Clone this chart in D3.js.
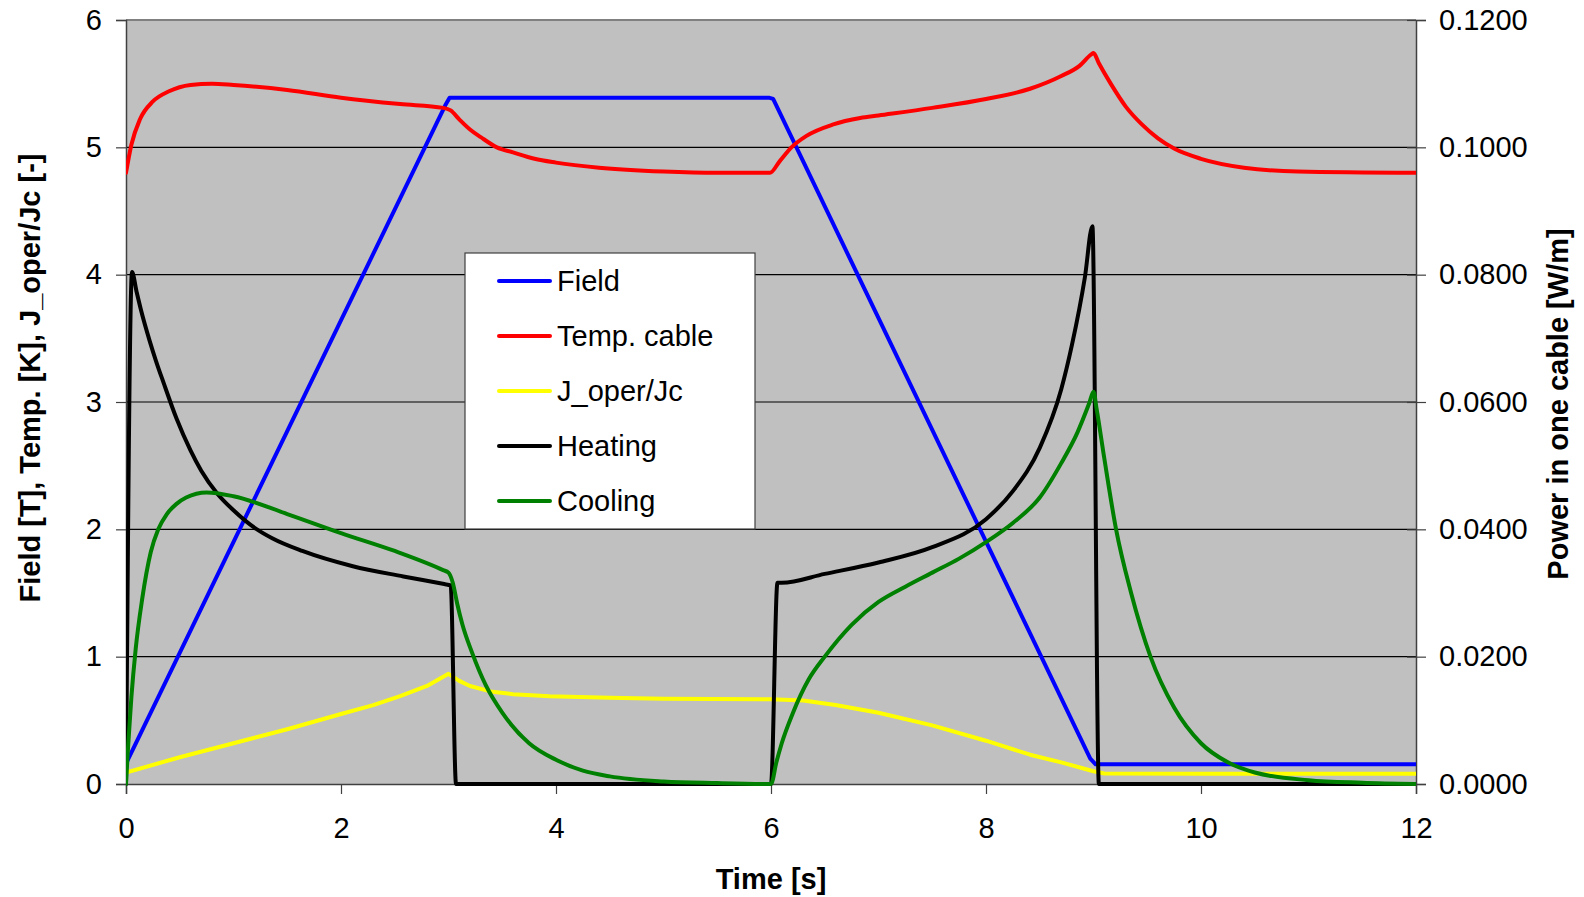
<!DOCTYPE html>
<html>
<head>
<meta charset="utf-8">
<script src="https://cdn.jsdelivr.net/npm/d3@7"></script>
<style>
  html, body { margin: 0; padding: 0; background: #ffffff; }
  svg { display: block; font-family: "Liberation Sans", Arial, sans-serif; }
</style>
</head>
<body>
<svg id="chart" width="1584" height="897"></svg>
<script>
// Time axis and tick values
const xTicks = [0, 2, 4, 6, 8, 10, 12];
const leftTicks = [0, 1, 2, 3, 4, 5, 6];
const rightTicks = [0, 0.02, 0.04, 0.06, 0.08, 0.10, 0.12];

// Field [T] vs time [s]
const field = [[0, 0.16], [2.97, 5.33], [3.01, 5.39], [3.06, 5.39], [5.98, 5.39], [6.02, 5.38], [8.97, 0.2], [9.02, 0.155], [9.06, 0.155], [12, 0.155]];

// Cable temperature [K]
const tempCable = [[0, 4.80], [0.05, 5.02], [0.13, 5.22], [0.25, 5.36], [0.4, 5.44], [0.6, 5.49], [0.8, 5.50], [1.0, 5.49], [1.5, 5.45], [2.0, 5.39], [2.55, 5.34], [2.95, 5.31],
  [3.02, 5.29], [3.1, 5.22], [3.2, 5.14], [3.3, 5.08], [3.45, 5.00], [3.6, 4.96], [3.8, 4.91], [4.0, 4.88], [4.4, 4.84], [5.0, 4.81], [5.5, 4.80], [5.99, 4.80],
  [6.08, 4.89], [6.19, 5.00], [6.33, 5.09], [6.58, 5.18], [6.83, 5.23], [7.0, 5.25], [7.5, 5.31], [8.0, 5.38], [8.41, 5.46], [8.7, 5.56], [8.87, 5.64], [8.98, 5.73], [9.0, 5.74],
  [9.05, 5.66], [9.16, 5.50], [9.3, 5.32], [9.45, 5.18], [9.6, 5.07], [9.75, 4.99], [10.0, 4.91], [10.4, 4.84], [10.9, 4.81], [12, 4.80]];

// J_oper/Jc [-]
const jRatio = [[0, 0.09], [0.5, 0.21], [1.0, 0.32], [1.5, 0.43], [2.0, 0.55], [2.3, 0.62], [2.55, 0.69], [2.8, 0.77], [3.0, 0.865], [3.1, 0.81], [3.2, 0.77], [3.39, 0.727], [3.6, 0.705], [3.94, 0.69],
  [4.5, 0.677], [5.0, 0.67], [6.0, 0.665], [6.3, 0.655], [6.6, 0.62], [7.0, 0.56], [7.5, 0.46], [8.0, 0.34], [8.41, 0.23], [8.7, 0.17], [9.0, 0.1], [9.1, 0.082], [10, 0.08], [12, 0.08]];

// Heating power in one cable [W/m]
const heating = [[0, 0], [0.056, 0.0804], [0.1, 0.0772], [0.14, 0.0744], [0.22, 0.0696], [0.28, 0.0664], [0.35, 0.0630], [0.47, 0.0574], [0.6, 0.0524], [0.7, 0.0492],
  [0.85, 0.0456], [1.0, 0.0430], [1.2, 0.0402], [1.36, 0.0386], [1.64, 0.0366], [2.11, 0.0342], [2.58, 0.0326], [2.96, 0.0314], [3.02, 0.0312], [3.07, 0], [6.0, 0],
  [6.06, 0.0316], [6.1, 0.0316], [6.5, 0.0330], [7.0, 0.0348], [7.5, 0.0372], [8.0, 0.0416], [8.25, 0.0460], [8.5, 0.0528], [8.7, 0.0620], [8.8, 0.0690], [8.92, 0.0796],
  [8.99, 0.0876], [9.05, 0], [12, 0]];

// Cooling power in one cable [W/m]
const cooling = [[0, 0], [0.02, 0.0060], [0.05, 0.0136], [0.09, 0.0212], [0.15, 0.0290], [0.23, 0.0364], [0.3, 0.0400], [0.38, 0.0424], [0.47, 0.0440], [0.56, 0.0450],
  [0.75, 0.0458], [1.0, 0.0452], [1.5, 0.0424], [2.0, 0.0394], [2.5, 0.0366], [2.95, 0.0336], [3.0, 0.0332], [3.04, 0.0316], [3.08, 0.0284], [3.13, 0.0250], [3.22, 0.0206],
  [3.35, 0.0154], [3.5, 0.0112], [3.75, 0.0064], [4.0, 0.0038], [4.25, 0.0021], [4.5, 0.0012], [5.0, 0.0004], [5.5, 0.00014], [6.0, 0],
  [6.05, 0.0034], [6.1, 0.0064], [6.2, 0.0110], [6.35, 0.0164], [6.5, 0.0200], [6.75, 0.0250], [7.0, 0.0286], [7.25, 0.0310], [7.5, 0.0332], [7.75, 0.0354],
  [8.0, 0.0380], [8.25, 0.0410], [8.5, 0.0450], [8.7, 0.0504], [8.85, 0.0552], [8.96, 0.0598], [9.0, 0.0616], [9.03, 0.0588], [9.1, 0.0512], [9.21, 0.0400],
  [9.35, 0.0300], [9.53, 0.0200], [9.75, 0.0120], [10.0, 0.0064], [10.25, 0.0034], [10.5, 0.0018], [11.0, 0.0006], [11.5, 0.0002], [12, 0]];

const seriesNames = ["Field", "Temp. cable", "J_oper/Jc", "Heating", "Cooling"];
const seriesColors = ["#0000ff", "#ff0000", "#ffff00", "#000000", "#008000"];

const svg = d3.select("#chart");
const plot = { left: 126, right: 1416, top: 20, bottom: 784 };

const x = d3.scaleLinear().domain([0, 12]).range([plot.left, plot.right]);
const yL = d3.scaleLinear().domain([0, 6]).range([plot.bottom, plot.top]);
const yR = d3.scaleLinear().domain([0, 0.12]).range([plot.bottom, plot.top]);

// Plot background
svg.append("rect")
  .attr("x", plot.left).attr("y", plot.top)
  .attr("width", plot.right - plot.left).attr("height", plot.bottom - plot.top)
  .attr("fill", "#c0c0c0");

// Horizontal gridlines
svg.append("g").selectAll("line").data(leftTicks.slice(1, -1)).join("line")
  .attr("x1", plot.left).attr("x2", plot.right)
  .attr("y1", d => yL(d)).attr("y2", d => yL(d))
  .attr("stroke", "#000").attr("stroke-width", 1.2);

// Top border
svg.append("line").attr("x1", plot.left).attr("x2", plot.right)
  .attr("y1", plot.top).attr("y2", plot.top)
  .attr("stroke", "#808080").attr("stroke-width", 2);

// Axes
const fontSize = 29;
const styleAxis = g => {
  g.select(".domain").attr("stroke", "#404040").attr("stroke-width", 1.5);
  g.selectAll(".tick line").attr("stroke", "#404040").attr("stroke-width", 1.2);
  g.selectAll(".tick text").attr("font-size", fontSize).attr("fill", "#000")
    .attr("font-family", "'Liberation Sans', Arial, sans-serif");
};

svg.append("g").attr("transform", `translate(${plot.left},0)`)
  .call(d3.axisLeft(yL).tickValues(leftTicks).tickFormat(d3.format("d")).tickSizeOuter(0).tickSize(10).tickPadding(14))
  .call(styleAxis);

svg.append("g").attr("transform", `translate(${plot.right},0)`)
  .call(d3.axisRight(yR).tickValues(rightTicks).tickFormat(d3.format(".4f")).tickSizeOuter(0).tickSize(10).tickPadding(13))
  .call(styleAxis)
  .call(g => g.selectAll(".tick line").attr("x1", -9));

svg.append("g").attr("transform", `translate(0,${plot.bottom})`)
  .call(d3.axisBottom(x).tickValues(xTicks).tickFormat(d3.format("d")).tickSizeOuter(0).tickSize(10).tickPadding(23))
  .call(styleAxis);

// Series lines: straight segments for the piecewise field and current ratio, smooth for the rest
const lineL = d3.line().x(d => x(d[0])).y(d => yL(d[1]));
const smoothL = d3.line().x(d => x(d[0])).y(d => yL(d[1])).curve(d3.curveMonotoneX);
const smoothR = d3.line().x(d => x(d[0])).y(d => yR(d[1])).curve(d3.curveMonotoneX);

const series = [
  { data: field, line: lineL },
  { data: tempCable, line: smoothL },
  { data: jRatio, line: lineL },
  { data: heating, line: smoothR },
  { data: cooling, line: smoothR }
];

svg.append("clipPath").attr("id", "plot-clip").append("rect")
  .attr("x", plot.left).attr("y", plot.top - 4)
  .attr("width", plot.right - plot.left).attr("height", plot.bottom - plot.top + 8);

svg.append("g").attr("clip-path", "url(#plot-clip)")
  .selectAll("path").data(series).join("path")
  .attr("d", d => d.line(d.data))
  .attr("fill", "none")
  .attr("stroke", (d, i) => seriesColors[i])
  .attr("stroke-width", 4)
  .attr("stroke-linejoin", "round")
  .attr("stroke-linecap", "round");

// Legend
const legend = svg.append("g").attr("transform", "translate(465,253)");
legend.append("rect").attr("width", 290).attr("height", 276)
  .attr("fill", "#ffffff").attr("stroke", "#404040").attr("stroke-width", 1.2);
const rows = legend.selectAll("g.row").data(seriesNames).join("g")
  .attr("class", "row")
  .attr("transform", (d, i) => `translate(0,${28 + i * 55})`);
rows.append("line").attr("x1", 34).attr("x2", 85).attr("y1", 0).attr("y2", 0)
  .attr("stroke", (d, i) => seriesColors[i]).attr("stroke-width", 4).attr("stroke-linecap", "round");
rows.append("text").attr("x", 92).attr("y", 0).attr("dy", "0.35em")
  .attr("font-size", fontSize).attr("fill", "#000").text(d => d);

// Axis titles
svg.append("text").attr("x", (plot.left + plot.right) / 2).attr("y", 879).attr("dy", "0.35em")
  .attr("text-anchor", "middle").attr("font-size", 29).attr("font-weight", "bold").text("Time [s]");

svg.append("text").attr("transform", "translate(30,378) rotate(-90)").attr("dy", "0.35em")
  .attr("text-anchor", "middle").attr("font-size", 29).attr("font-weight", "bold")
  .text("Field [T], Temp. [K], J_oper/Jc [-]");

svg.append("text").attr("transform", "translate(1558,404) rotate(-90)").attr("dy", "0.35em")
  .attr("text-anchor", "middle").attr("font-size", 29).attr("font-weight", "bold")
  .text("Power in one cable [W/m]");
</script>
</body>
</html>
